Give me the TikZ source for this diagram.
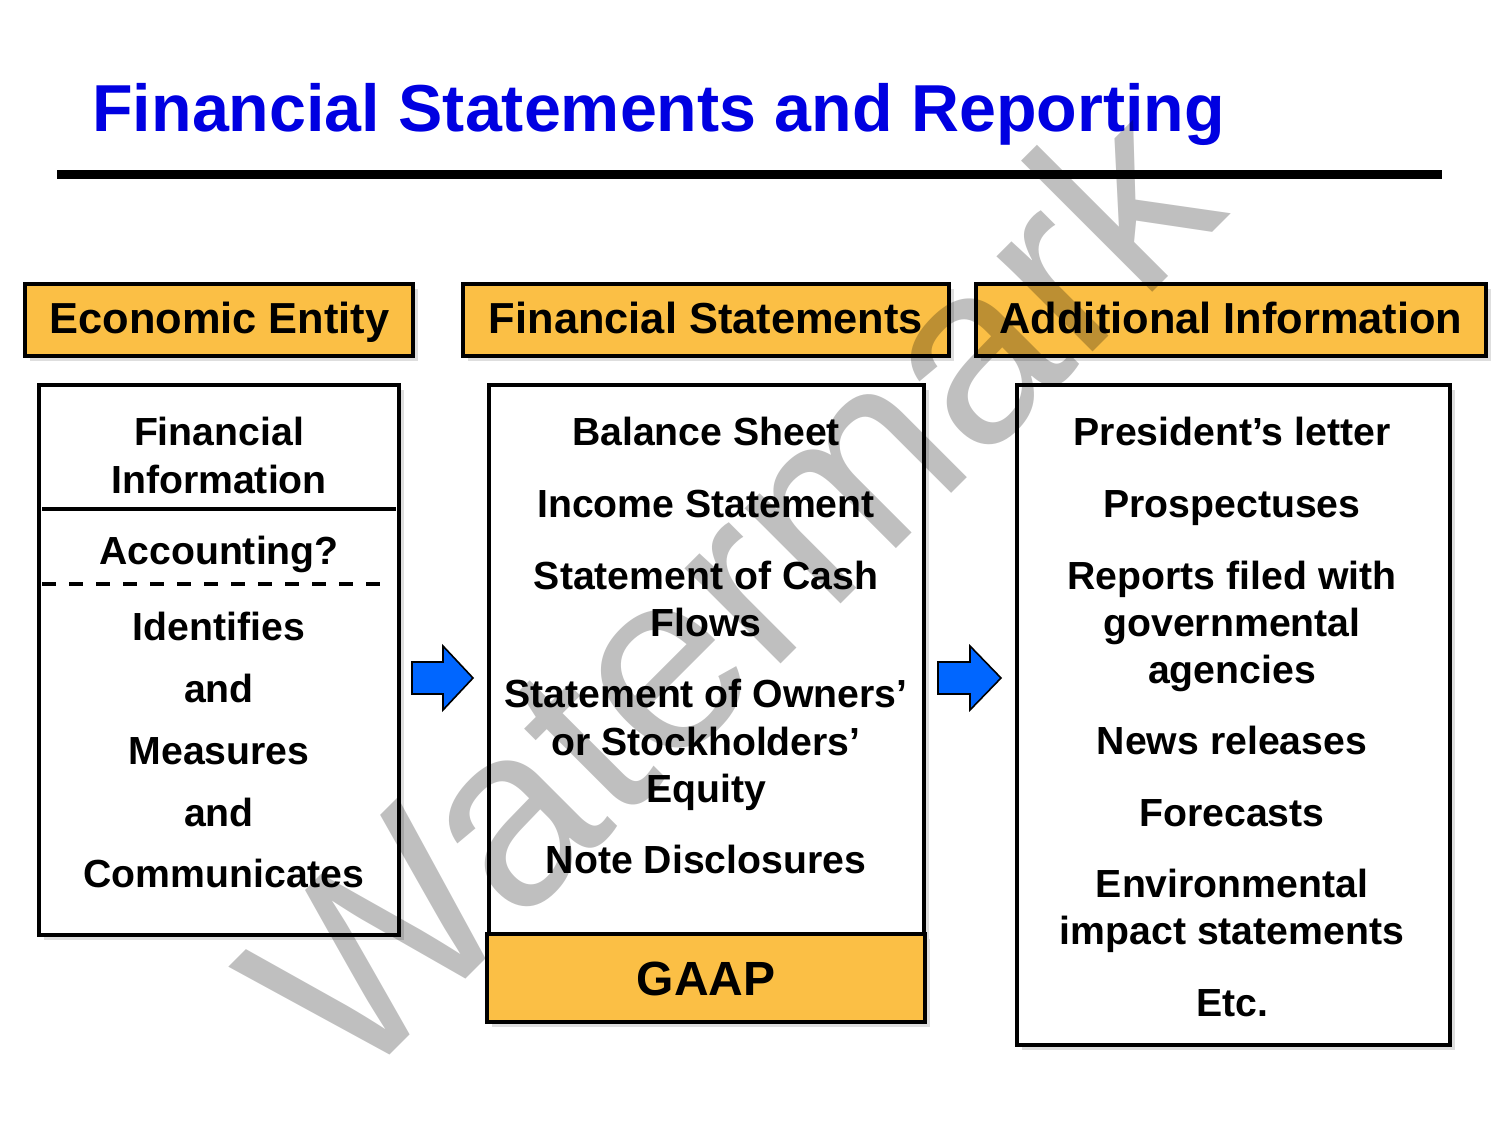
\documentclass[tikz,border=0pt]{standalone}
\usepackage{fontspec}
\setmainfont{Liberation Sans}
\usetikzlibrary{shadows}
\definecolor{hdrorange}{RGB}{251,191,69}
\definecolor{ttlblue}{RGB}{0,0,225}
\definecolor{arrblue}{RGB}{0,102,255}
\definecolor{shadowgray}{RGB}{222,222,222}
\begin{document}
\begin{tikzpicture}[x=0.5pt,y=-0.5pt,
  boxshadow/.style={drop shadow={shadow xshift=2.5pt,shadow yshift=-2.5pt,fill=shadowgray,opacity=1}},
  hdrbox/.style={draw=black,line width=2pt,fill=hdrorange,boxshadow,minimum height=36pt,inner sep=0pt},
  bodybox/.style={draw=black,line width=2pt,fill=white,boxshadow,inner sep=0pt},
  hdrtext/.style={font=\fontsize{21.7}{26}\selectfont\bfseries,anchor=base,inner sep=0pt},
  bodytext/.style={font=\fontsize{19.6}{24}\selectfont\bfseries,anchor=base,inner sep=0pt},
  blockarrow/.style={draw=black,line width=0.8pt,fill=arrblue,line join=miter},
]
\useasboundingbox (0,0) rectangle (1500,1125);

% title and rule
\node[anchor=base west,inner sep=0pt,text=ttlblue,font=\fontsize{33.2}{40}\selectfont\bfseries] (title) at (92,131) {Financial Statements and Reporting};
\coordinate (ruleL) at (57,174.5);
\coordinate (ruleR) at (1442,174.5);
\draw[line width=4.5pt] (ruleL) -- (ruleR);

% header boxes
\node[hdrbox,minimum width=194pt] (h1) at (219,320) {};
\node[hdrbox,minimum width=243pt] (h2) at (706,320) {};
\node[hdrbox,minimum width=255pt] (h3) at (1231,320) {};
\node[hdrtext] (h1t) at (219.5,333) {Economic Entity};
\node[hdrtext] (h2t) at (706,333) {Financial Statements};
\node[hdrtext] (h3t) at (1231,333) {Additional Information};

% body boxes
\node[bodybox,minimum width=180pt,minimum height=275pt] (b1) at (219,660) {};
\node[bodybox,minimum width=217.5pt,minimum height=274.5pt] (b2) at (706.5,659.5) {};
\node[bodybox,minimum width=216.5pt,minimum height=330pt] (b3) at (1233.5,715) {};
\node[hdrbox,minimum width=219pt,minimum height=44pt] (gaap) at (706,978) {};
\node[font=\fontsize{24}{28}\selectfont\bfseries,anchor=base,inner sep=0pt] (gaapt) at (706,995) {GAAP};

% separators in left box
\coordinate (s1L) at (42,509);
\coordinate (s1R) at (396,509);
\coordinate (s2L) at (42,584);
\coordinate (s2R) at (390,584);
\draw[line width=2pt] (s1L) -- (s1R);
\draw[line width=1.7pt,dash pattern=on 7pt off 6.5pt] (s2L) -- (s2R);

% left texts
\node[bodytext] (l1) at (219,445) {Financial};
\node[bodytext] (l2) at (219,493) {Information};
\node[bodytext] (l3) at (219,564) {Accounting?};
\node[bodytext] (l4) at (219,640) {Identifies};
\node[bodytext] (l5) at (219,702) {and};
\node[bodytext] (l6) at (219,764) {Measures};
\node[bodytext] (l7) at (219,826) {and};
\node[bodytext] (l8) at (224,887) {Communicates};

% middle texts
\node[bodytext] (m1) at (706,445) {Balance Sheet};
\node[bodytext] (m2) at (706,517) {Income Statement};
\node[bodytext] (m3) at (706,589) {Statement of Cash};
\node[bodytext] (m4) at (706,636) {Flows};
\node[bodytext] (m5) at (706,707) {Statement of Owners’};
\node[bodytext] (m6) at (706,755) {or Stockholders’};
\node[bodytext] (m7) at (706,802) {Equity};
\node[bodytext] (m8) at (706,873) {Note Disclosures};

% right texts
\node[bodytext] (r1) at (1232,445) {President’s letter};
\node[bodytext] (r2) at (1232,517) {Prospectuses};
\node[bodytext] (r3) at (1232,589) {Reports filed with};
\node[bodytext] (r4) at (1232,636) {governmental};
\node[bodytext] (r5) at (1232,683) {agencies};
\node[bodytext] (r6) at (1232,754) {News releases};
\node[bodytext] (r7) at (1232,826) {Forecasts};
\node[bodytext] (r8) at (1232,897) {Environmental};
\node[bodytext] (r9) at (1232,944) {impact statements};
\node[bodytext] (r10) at (1232,1016) {Etc.};

% block arrows
\draw[blockarrow] (412,662) -- (443,662) -- (443,646) -- (473,678) -- (443,710) -- (443,694) -- (412,694) -- cycle;
\draw[blockarrow] (938,662) -- (970,662) -- (970,646) -- (1001,678) -- (970,710) -- (970,694) -- (938,694) -- cycle;

% watermark
\node[anchor=base,inner sep=0pt,rotate=45,text=black,text opacity=0.25,font=\fontsize{128}{150}\selectfont] (wm) at (792,653) {Watermark};
\end{tikzpicture}
\end{document}
